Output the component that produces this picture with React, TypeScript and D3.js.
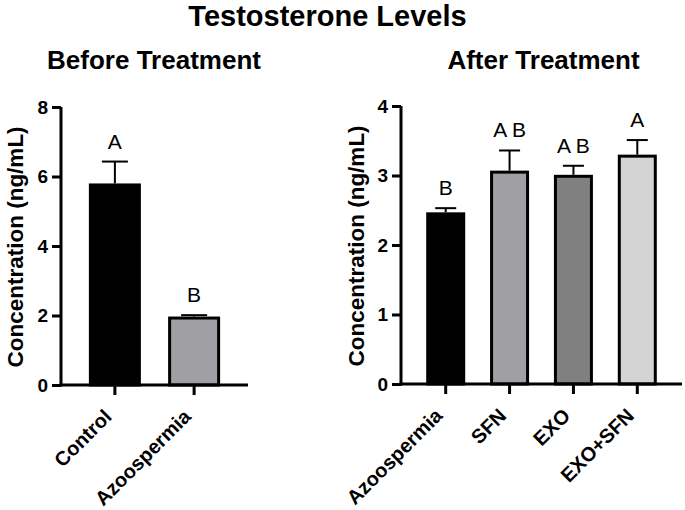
import React, { useRef, useEffect } from 'react';
import * as d3 from 'd3';

// Before treatment
const beforeGroups = ['Control', 'Azoospermia'];
const beforeMeans = [5.8, 1.97];
const beforeErr = [0.63, 0.04];
const beforeLetters = ['A', 'B'];
const beforeColors = ['#000000', '#a0a0a4'];

// After treatment
const afterGroups = ['Azoospermia', 'SFN', 'EXO', 'EXO+SFN'];
const afterMeans = [2.47, 3.07, 3.01, 3.3];
const afterErr = [0.06, 0.29, 0.13, 0.21];
const afterLetters = ['B', 'A B', 'A B', 'A'];
const afterColors = ['#000000', '#a0a0a4', '#808080', '#d4d4d4'];

const FONT = '"Liberation Sans", Arial, sans-serif';

interface PanelSpec {
  groups: string[];
  means: number[];
  errs: number[];
  letters: string[];
  colors: string[];
  yMax: number;
  yTicks: number[];
  x0: number;
  x1: number;
  y0: number;
  y1: number;
  barW: number;
  capW: number;
  title: string;
  titleX: number;
  labelX: number;
}

const App: React.FC = () => {
  const svgRef = useRef<SVGSVGElement>(null);

  useEffect(() => {
    if (!svgRef.current) return;
    const svg = d3.select(svgRef.current);
    svg.selectAll('*').remove();

    svg.append('text')
      .attr('x', 327.5).attr('y', 26)
      .attr('text-anchor', 'middle')
      .style('font-family', FONT).style('font-weight', 'bold').style('font-size', '29px')
      .text('Testosterone Levels');

    const panels: PanelSpec[] = [
      {
        groups: beforeGroups, means: beforeMeans, errs: beforeErr, letters: beforeLetters,
        colors: beforeColors, yMax: 8, yTicks: [0, 2, 4, 6, 8],
        x0: 61, x1: 248, y0: 385, y1: 107, barW: 52, capW: 26,
        title: 'Before Treatment', titleX: 154, labelX: 23,
      },
      {
        groups: afterGroups, means: afterMeans, errs: afterErr, letters: afterLetters,
        colors: afterColors, yMax: 4, yTicks: [0, 1, 2, 3, 4],
        x0: 401, x1: 682, y0: 384, y1: 106, barW: 39, capW: 21,
        title: 'After Treatment', titleX: 543.5, labelX: 364,
      },
    ];

    panels.forEach((p) => {
      const y = d3.scaleLinear().domain([0, p.yMax]).range([p.y0, p.y1]);
      const x = d3.scaleBand<string>()
        .domain(p.groups)
        .range([p.x0, p.x1])
        .paddingInner(0.4)
        .paddingOuter(p.groups.length === 2 ? 0.38 : 0.4);

      const g = svg.append('g');

      g.append('text')
        .attr('x', p.titleX).attr('y', 69)
        .attr('text-anchor', 'middle')
        .style('font-family', FONT).style('font-weight', 'bold').style('font-size', '26px')
        .text(p.title);

      const cx = (d: string) => (x(d) as number) + x.bandwidth() / 2;

      // bars
      g.selectAll('rect.bar')
        .data(p.groups)
        .enter().append('rect')
        .attr('class', 'bar')
        .attr('x', (d) => cx(d) - p.barW / 2 + 1.5)
        .attr('width', p.barW - 3)
        .attr('y', (_d, i) => y(p.means[i]) + 1.5)
        .attr('height', (_d, i) => y(0) - y(p.means[i]) - 1.5)
        .attr('fill', (_d, i) => p.colors[i])
        .attr('stroke', '#000')
        .attr('stroke-width', 3);

      // error bars (upper only) + significance letters
      p.groups.forEach((d, i) => {
        const top = y(p.means[i] + p.errs[i]);
        g.append('line')
          .attr('x1', cx(d)).attr('x2', cx(d))
          .attr('y1', y(p.means[i])).attr('y2', top)
          .attr('stroke', '#000').attr('stroke-width', 2);
        g.append('line')
          .attr('x1', cx(d) - p.capW / 2).attr('x2', cx(d) + p.capW / 2)
          .attr('y1', top).attr('y2', top)
          .attr('stroke', '#000').attr('stroke-width', 2);
        g.append('text')
          .attr('x', cx(d)).attr('y', top - 13)
          .attr('text-anchor', 'middle')
          .style('font-family', FONT).style('font-size', '21px')
          .text(p.letters[i]);
      });

      // y axis
      const yAxis = d3.axisLeft(y).tickValues(p.yTicks).tickFormat(d3.format('d'))
        .tickSize(9).tickPadding(4).tickSizeOuter(0);
      const ya = g.append('g').attr('transform', `translate(${p.x0},0)`).call(yAxis);
      ya.select('.domain').attr('stroke-width', 3).attr('d', `M0,${p.y0 + 1.5}V${p.y1}`);
      ya.selectAll('.tick line').attr('stroke-width', 3);
      ya.selectAll('.tick text')
        .style('font-family', FONT).style('font-weight', 'bold').style('font-size', '19px')
        .attr('fill', '#000');

      // x axis
      const xAxis = d3.axisBottom(x).tickSize(10).tickSizeOuter(0).tickFormat(() => '');
      const xa = g.append('g').attr('transform', `translate(0,${p.y0})`).call(xAxis);
      xa.select('.domain').attr('stroke-width', 3).attr('d', `M${p.x0 - 1.5},0H${p.x1}`);
      xa.selectAll('.tick line').attr('stroke-width', 3);

      g.selectAll('text.xl')
        .data(p.groups)
        .enter().append('text')
        .attr('class', 'xl')
        .attr('transform', (d) => `translate(${cx(d) - 2},${p.y0 + 33}) rotate(-45)`)
        .attr('text-anchor', 'end')
        .style('font-family', FONT).style('font-weight', 'bold').style('font-size', '20px')
        .text((d) => d);

      g.append('text')
        .attr('transform', `translate(${p.labelX},${(p.y0 + p.y1) / 2 + 1}) rotate(-90)`)
        .attr('text-anchor', 'middle')
        .style('font-family', FONT).style('font-weight', 'bold').style('font-size', '22.5px')
        .text('Concentration (ng/mL)');
    });
  }, []);

  return (
    <svg ref={svgRef} width={685} height={510}
      style={{ position: 'absolute', left: 0, top: 0, background: '#fff' }}></svg>
  );
};

export default App;
